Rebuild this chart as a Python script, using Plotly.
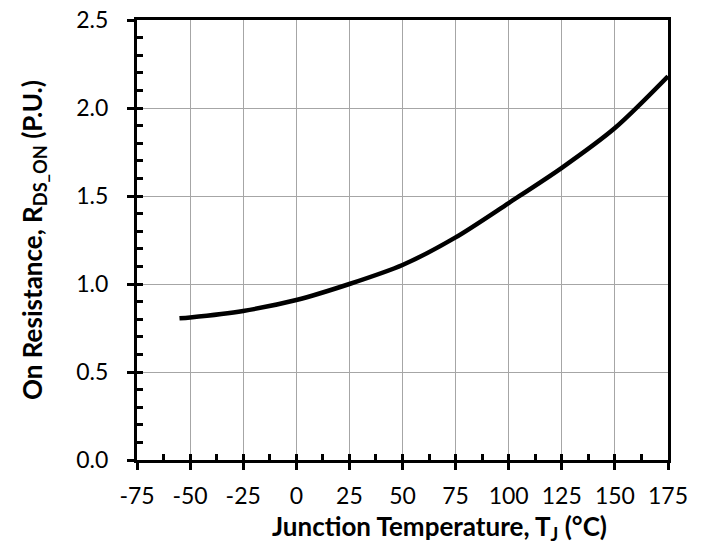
import plotly.graph_objects as go

temps = [-55, -50, -25, 0, 25, 50, 75, 100, 125, 150, 175]
rds_on = [0.805, 0.81, 0.847, 0.909, 1.0, 1.108, 1.265, 1.46, 1.66, 1.886, 2.18]

x_ticks = [-75, -50, -25, 0, 25, 50, 75, 100, 125, 150, 175]
y_ticks = [0.0, 0.5, 1.0, 1.5, 2.0, 2.5]
y_tick_labels = ["0.0", "0.5", "1.0", "1.5", "2.0", "2.5"]

x_title = "Junction Temperature, T<sub>J</sub> (°C)"
y_title = "On Resistance, R<sub>DS_ON</sub> (P.U.)"

FONT = "Lato"

fig = go.Figure()
fig.add_trace(go.Scatter(x=temps, y=rds_on, mode="lines",
                         line=dict(color="black", width=4.5, shape="spline", smoothing=0.8),
                         showlegend=False, hoverinfo="skip"))
# empty trace to activate overlay axes used for inside ticks
fig.add_trace(go.Scatter(x=[], y=[], xaxis="x2", yaxis="y2", showlegend=False))

fig.update_layout(
    width=711, height=550,
    margin=dict(l=137, r=43, t=20, b=90),
    paper_bgcolor="white", plot_bgcolor="white",
    font=dict(family=FONT, size=23, color="black"),
    xaxis=dict(range=[-75, 175], tickvals=x_ticks, ticktext=[str(v) for v in x_ticks],
               showgrid=True, gridcolor="#a6a6a6", gridwidth=1,
               showline=True, linecolor="black", linewidth=3, mirror=True,
               ticks="outside", ticklen=7, tickwidth=3, tickcolor="black",
               zeroline=False, automargin=False, ticklabelstandoff=6,
               tickfont=dict(size=23, family=FONT, color="black")),
    yaxis=dict(range=[0, 2.5], tickvals=y_ticks, ticktext=y_tick_labels,
               showgrid=True, gridcolor="#a6a6a6", gridwidth=1,
               showline=True, linecolor="black", linewidth=3, mirror=True,
               ticks="outside", ticklen=7, tickwidth=3, tickcolor="black",
               zeroline=False, automargin=False, ticklabelstandoff=14,
               tickfont=dict(size=23, family=FONT, color="black")),
    xaxis2=dict(range=[-75, 175], overlaying="x", side="bottom", anchor="y2",
                tick0=-75, dtick=12.5, ticks="inside", ticklen=6, tickwidth=3, tickcolor="black",
                showticklabels=False, showgrid=False, zeroline=False, showline=False),
    yaxis2=dict(range=[0, 2.5], overlaying="y", side="left", anchor="x2",
                tick0=0, dtick=0.1, ticks="inside", ticklen=6, tickwidth=3, tickcolor="black",
                showticklabels=False, showgrid=False, zeroline=False, showline=False),
    annotations=[
        dict(text=x_title, xref="paper", yref="paper", x=0.569, y=0, yshift=-67,
             xanchor="center", yanchor="middle", showarrow=False,
             font=dict(size=26, family=FONT, weight="bold", color="black")),
        dict(text=y_title, xref="paper", yref="paper", x=0, xshift=-104, y=0.5,
             xanchor="center", yanchor="middle", showarrow=False, textangle=-90,
             font=dict(size=26, family=FONT, weight="bold", color="black")),
    ],
)

# remove the default 8px page margin so the 711x550 figure fills the window exactly
fig.write_html("out.html",
               config={"displayModeBar": False},
               post_script="document.body.style.margin='0';document.body.style.overflow='hidden';")
